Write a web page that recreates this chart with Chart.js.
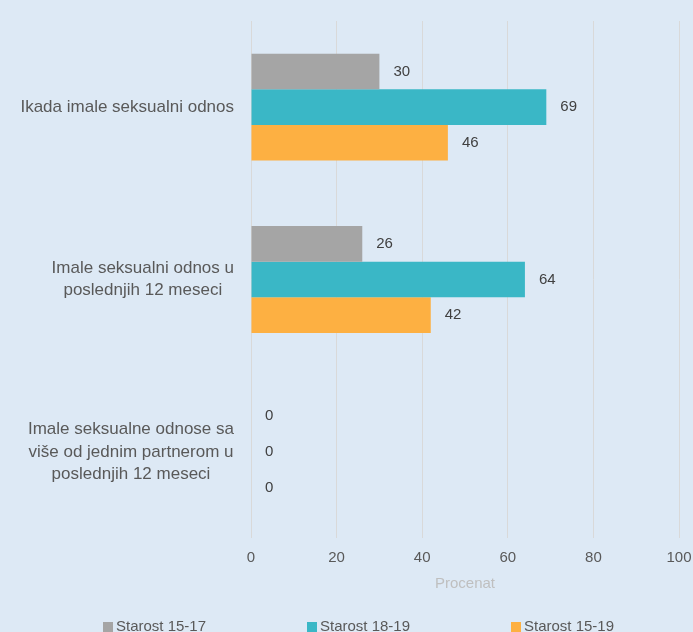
<!DOCTYPE html>
<html>
<head>
<meta charset="utf-8">
<script src="https://cdn.jsdelivr.net/npm/chart.js@4.4.1/dist/chart.umd.min.js"></script>
<style>
  html, body { margin: 0; padding: 0; background: #dde9f5; }
  #wrap { width: 693px; height: 632px; position: relative; }
</style>
</head>
<body>
<div id="wrap"><canvas id="myChart"></canvas></div>
<script>
// Categories (multi-line labels as in the original)
const categories = [
    ['Ikada imale seksualni odnos'],
    ['Imale seksualni odnos u', 'poslednjih 12 meseci'],
    ['Imale seksualne odnose sa', 'više od jednim partnerom u', 'poslednjih 12 meseci']
];

// Series values (percent)
const age1517 = [30, 26, 0];
const age1819 = [69, 64, 0];
const age1519 = [46, 42, 0];

const seriesNames = ['Starost 15-17', 'Starost 18-19', 'Starost 15-19'];
const seriesColors = ['#a5a5a5', '#3ab7c6', '#fdb042'];

// X axis ticks
const xMin = 0;
const xMax = 100;
const xStep = 20;

const FONT = "'Liberation Sans', Arial, sans-serif";

// Draws the value next to the end of each bar
const valueLabels = {
    id: 'valueLabels',
    afterDatasetsDraw(chart) {
        const ctx = chart.ctx;
        ctx.save();
        ctx.font = '15px ' + FONT;
        ctx.fillStyle = '#404040';
        ctx.textAlign = 'left';
        ctx.textBaseline = 'middle';
        chart.data.datasets.forEach((ds, i) => {
            chart.getDatasetMeta(i).data.forEach((bar, j) => {
                ctx.fillText(String(ds.data[j]), bar.x + 14, bar.y);
            });
        });
        ctx.restore();
    }
};

// Category labels, each block centred on its own widest line
const categoryLabels = {
    id: 'categoryLabels',
    afterDraw(chart) {
        const ctx = chart.ctx;
        const yScale = chart.scales.y;
        const right = chart.chartArea.left - 17;
        const lineH = 22.5;
        ctx.save();
        ctx.font = '17px ' + FONT;
        ctx.fillStyle = '#595959';
        ctx.textAlign = 'center';
        ctx.textBaseline = 'middle';
        categories.forEach((lines, i) => {
            const widest = Math.max(...lines.map(l => ctx.measureText(l).width));
            const cx = right - widest / 2;
            const cy = yScale.getPixelForTick(i);
            const y0 = cy - (lines.length - 1) * lineH / 2;
            lines.forEach((l, k) => ctx.fillText(l, cx, y0 + k * lineH));
        });
        ctx.restore();
    }
};

// Legend at the bottom, wide spacing like the original
const bottomLegend = {
    id: 'bottomLegend',
    afterDraw(chart) {
        const ctx = chart.ctx;
        ctx.save();
        ctx.font = '15px ' + FONT;
        ctx.textBaseline = 'middle';
        ctx.textAlign = 'left';
        const y = 627;
        chart.data.datasets.forEach((ds, i) => {
            const x = 103 + i * 204;
            ctx.fillStyle = ds.backgroundColor;
            ctx.fillRect(x, y - 5, 10, 10);
            ctx.fillStyle = '#595959';
            ctx.fillText(ds.label, x + 13, y);
        });
        ctx.restore();
    }
};

document.addEventListener('DOMContentLoaded', () => {
    const ctx = document.getElementById('myChart').getContext('2d');

    const datasets = [age1517, age1819, age1519].map((values, i) => ({
        label: seriesNames[i],
        data: values,
        backgroundColor: seriesColors[i],
        borderWidth: 0,
        barPercentage: 1,
        categoryPercentage: 0.62
    }));

    new Chart(ctx, {
        type: 'bar',
        data: {
            labels: categories,
            datasets: datasets
        },
        plugins: [valueLabels, categoryLabels, bottomLegend],
        options: {
            indexAxis: 'y',
            responsive: true,
            maintainAspectRatio: false,
            animation: false,
            layout: {
                padding: { top: 21, right: 14, bottom: 39, left: 0 }
            },
            plugins: {
                legend: { display: false },
                tooltip: { enabled: false }
            },
            scales: {
                x: {
                    min: xMin,
                    max: xMax,
                    ticks: {
                        stepSize: xStep,
                        color: '#595959',
                        font: { family: FONT, size: 15 },
                        padding: 11
                    },
                    grid: {
                        color: '#d9d9d9',
                        drawTicks: false
                    },
                    border: { display: false },
                    title: {
                        display: true,
                        text: 'Procenat',
                        color: '#bfbfbf',
                        font: { family: FONT, size: 15 },
                        padding: { top: -3, bottom: 0 }
                    },
                    afterFit: (scale) => { scale.paddingRight = 0; }
                },
                y: {
                    ticks: { display: false },
                    grid: { display: false },
                    border: { display: false },
                    afterFit: (scale) => { scale.width = 251; }
                }
            }
        }
    });
});
</script>
</body>
</html>
